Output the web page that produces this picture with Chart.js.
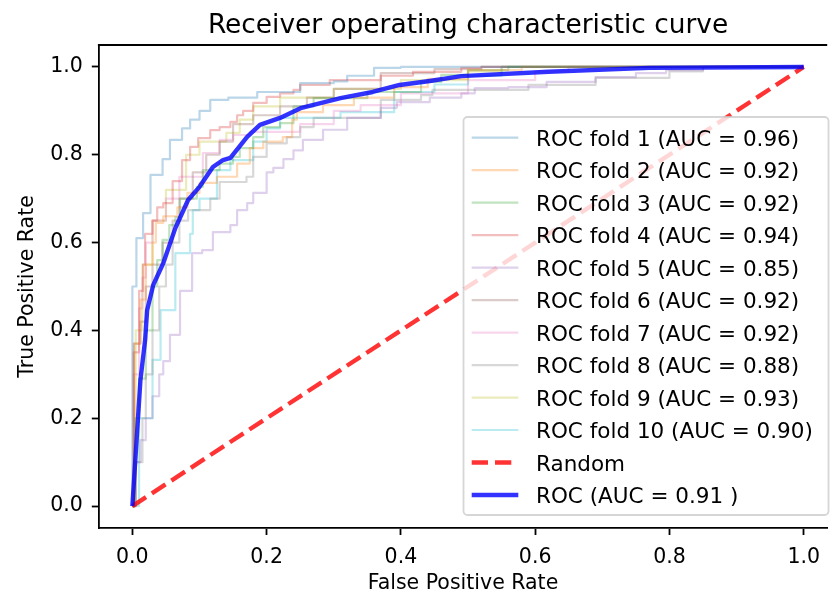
<!DOCTYPE html>
<html>
<head>
<meta charset="utf-8">
<title>Receiver operating characteristic curve</title>
<script src="https://cdn.jsdelivr.net/npm/chart.js@4.4.0/dist/chart.umd.min.js"></script>
<style>
  html, body { margin: 0; padding: 0; background: #fff; overflow: hidden; }
  canvas { display: block; }
</style>
</head>
<body>
<canvas id="rocChart" width="830" height="594"></canvas>
<script>
// ROC curve per fold, as [false positive rate, true positive rate] points
const fold1 = [[0,0],[0,0.50],[0.006,0.61],[0.016,0.667],[0.027,0.754],[0.045,0.79],[0.056,0.834],[0.074,0.86],[0.086,0.88],[0.10,0.90],[0.116,0.925],[0.143,0.93],[0.186,0.943],[0.25,0.963],[0.30,0.967],[0.32,0.98],[0.36,0.998],[0.40,1.0],[1,1]];
const fold2 = [[0,0],[0.003,0.37],[0.012,0.47],[0.02,0.55],[0.03,0.6],[0.035,0.645],[0.046,0.66],[0.067,0.68],[0.082,0.713],[0.10,0.736],[0.126,0.75],[0.156,0.78],[0.175,0.815],[0.195,0.83],[0.224,0.84],[0.238,0.88],[0.245,0.897],[0.284,0.913],[0.33,0.93],[0.39,0.954],[0.44,0.973],[0.50,0.993],[0.58,1.0],[1,1]];
const fold3 = [[0,0],[0.004,0.2],[0.01,0.29],[0.02,0.4],[0.03,0.5],[0.037,0.56],[0.045,0.606],[0.055,0.64],[0.064,0.658],[0.071,0.7],[0.096,0.727],[0.105,0.765],[0.13,0.78],[0.15,0.795],[0.16,0.815],[0.18,0.84],[0.195,0.863],[0.22,0.872],[0.24,0.91],[0.27,0.929],[0.35,0.943],[0.43,0.966],[0.46,0.982],[0.50,0.993],[0.56,1.0],[1,1]];
const fold4 = [[0,0],[0.002,0.35],[0.01,0.49],[0.016,0.55],[0.019,0.62],[0.03,0.65],[0.037,0.68],[0.046,0.69],[0.06,0.74],[0.074,0.788],[0.086,0.818],[0.098,0.838],[0.116,0.856],[0.13,0.863],[0.146,0.875],[0.156,0.89],[0.165,0.90],[0.18,0.918],[0.20,0.932],[0.22,0.94],[0.24,0.948],[0.25,0.959],[0.294,0.97],[0.37,0.98],[0.418,0.989],[0.49,0.998],[0.52,1.0],[1,1]];
const fold5 = [[0,0],[0.005,0.1],[0.012,0.15],[0.02,0.2],[0.03,0.25],[0.04,0.3],[0.046,0.33],[0.056,0.39],[0.071,0.49],[0.089,0.576],[0.104,0.583],[0.12,0.624],[0.146,0.64],[0.156,0.674],[0.171,0.69],[0.18,0.713],[0.2,0.76],[0.21,0.77],[0.225,0.79],[0.24,0.81],[0.254,0.834],[0.284,0.857],[0.32,0.884],[0.37,0.907],[0.394,0.92],[0.443,0.93],[0.49,0.94],[0.51,0.952],[0.56,0.954],[0.617,0.966],[0.69,0.977],[0.75,0.986],[0.795,0.993],[0.85,1.0],[1,1]];
const fold6 = [[0,0],[0.002,0.37],[0.012,0.42],[0.02,0.5],[0.03,0.55],[0.045,0.6],[0.06,0.65],[0.07,0.7],[0.09,0.76],[0.11,0.8],[0.13,0.83],[0.15,0.87],[0.18,0.89],[0.22,0.91],[0.26,0.93],[0.3,0.95],[0.37,0.986],[0.45,0.995],[0.52,1.0],[1,1]];
const fold7 = [[0,0],[0.002,0.3],[0.01,0.45],[0.015,0.52],[0.02,0.6],[0.03,0.65],[0.05,0.7],[0.07,0.75],[0.105,0.804],[0.13,0.834],[0.15,0.845],[0.175,0.852],[0.25,0.87],[0.3,0.9],[0.34,0.913],[0.4,0.94],[0.5,0.97],[0.6,0.99],[0.65,1.0],[1,1]];
const fold8 = [[0,0],[0.005,0.1],[0.015,0.2],[0.02,0.3],[0.03,0.4],[0.04,0.5],[0.05,0.55],[0.06,0.6],[0.07,0.65],[0.083,0.674],[0.116,0.70],[0.13,0.738],[0.17,0.75],[0.18,0.795],[0.2,0.826],[0.23,0.84],[0.25,0.863],[0.27,0.884],[0.37,0.925],[0.43,0.936],[0.447,0.948],[0.59,0.959],[0.69,0.975],[0.8,0.99],[0.85,1.0],[1,1]];
const fold9 = [[0,0],[0.005,0.4],[0.015,0.55],[0.03,0.65],[0.05,0.72],[0.08,0.8],[0.1,0.83],[0.14,0.85],[0.16,0.88],[0.18,0.91],[0.22,0.93],[0.3,0.95],[0.4,0.97],[0.5,0.99],[0.55,1.0],[1,1]];
const fold10 = [[0,0],[0.01,0.2],[0.03,0.333],[0.042,0.446],[0.064,0.576],[0.086,0.62],[0.09,0.674],[0.1,0.70],[0.126,0.765],[0.146,0.788],[0.18,0.83],[0.2,0.86],[0.22,0.884],[0.31,0.897],[0.39,0.943],[0.45,0.96],[0.5,0.98],[0.55,1.0],[1,1]];
const foldAuc = [0.96, 0.92, 0.92, 0.94, 0.85, 0.92, 0.92, 0.88, 0.93, 0.90];

// mean ROC and the chance diagonal
const meanRoc = [[0,0],[0.012,0.287],[0.019,0.378],[0.022,0.446],[0.031,0.503],[0.046,0.553],[0.064,0.633],[0.083,0.697],[0.1,0.727],[0.12,0.772],[0.135,0.788],[0.146,0.793],[0.171,0.841],[0.19,0.868],[0.22,0.884],[0.252,0.907],[0.31,0.929],[0.358,0.943],[0.398,0.959],[0.443,0.968],[0.49,0.979],[0.62,0.989],[0.77,0.998],[1,1]];
const meanAuc = 0.91;
const randomLine = [[0,0],[1,1]];

const xTicks = [0, 0.2, 0.4, 0.6, 0.8, 1.0];
const yTicks = [0, 0.2, 0.4, 0.6, 0.8, 1.0];

const folds = [fold1, fold2, fold3, fold4, fold5, fold6, fold7, fold8, fold9, fold10];
const foldColors = ['31,119,180', '255,127,14', '44,160,44', '214,39,40', '148,103,189',
                    '140,86,75', '227,119,194', '127,127,127', '188,189,34', '23,190,207'];

const toXY = pts => pts.map(p => ({x: p[0], y: p[1]}));
const FONT = '"DejaVu Sans", "Liberation Sans", sans-serif';

const datasets = folds.map((f, i) => ({
  label: 'ROC fold ' + (i + 1) + ' (AUC = ' + foldAuc[i].toFixed(2) + ')',
  data: toXY(f),
  borderColor: 'rgba(' + foldColors[i] + ',0.3)',
  borderWidth: 2.2,
  stepped: true,
  order: 3
}));
datasets.push({
  label: 'Random',
  data: toXY(randomLine),
  borderColor: 'rgba(255,0,0,0.8)',
  borderWidth: 4.4,
  borderDash: [16.3, 7],
  order: 2
});
datasets.push({
  label: 'ROC (AUC = ' + meanAuc.toFixed(2) + ' )',
  data: toXY(meanRoc),
  borderColor: 'rgba(0,0,255,0.8)',
  borderWidth: 4.4,
  order: 1
});

// title, top spine and the boxed legend, drawn the way matplotlib lays them out
const rocDecor = {
  id: 'rocDecor',
  afterDatasetsDraw(chart) {
    const {ctx, chartArea: a} = chart;
    ctx.save();
    ctx.strokeStyle = '#000';
    ctx.lineWidth = 1.8;
    ctx.beginPath();
    ctx.moveTo(a.left - 0.9, a.top);
    ctx.lineTo(a.right, a.top);
    ctx.stroke();
    ctx.restore();
  },
  afterDraw(chart) {
    const {ctx, scales: {x}} = chart;
    ctx.save();
    ctx.fillStyle = '#000';
    ctx.font = '26.4px ' + FONT;
    ctx.textAlign = 'center';
    ctx.textBaseline = 'alphabetic';
    ctx.fillText('Receiver operating characteristic curve', x.getPixelForValue(0.5), 33);

    // legend frame
    const bx = 463.5, by = 117, bw = 365, bh = 398, r = 4;
    ctx.beginPath();
    ctx.moveTo(bx + r, by);
    ctx.arcTo(bx + bw, by, bx + bw, by + bh, r);
    ctx.arcTo(bx + bw, by + bh, bx, by + bh, r);
    ctx.arcTo(bx, by + bh, bx, by, r);
    ctx.arcTo(bx, by, bx + bw, by, r);
    ctx.closePath();
    ctx.fillStyle = 'rgba(255,255,255,0.8)';
    ctx.fill();
    ctx.strokeStyle = 'rgba(204,204,204,0.8)';
    ctx.lineWidth = 1.8;
    ctx.stroke();

    ctx.font = '21.5px ' + FONT;
    ctx.textAlign = 'left';
    chart.data.datasets.forEach((ds, i) => {
      const cy = 137.7 + i * 32.48;
      ctx.save();
      ctx.strokeStyle = ds.borderColor;
      ctx.lineWidth = ds.borderWidth;
      ctx.setLineDash(ds.borderDash || []);
      ctx.beginPath();
      ctx.moveTo(471.7, cy);
      ctx.lineTo(518.3, cy);
      ctx.stroke();
      ctx.restore();
      ctx.fillStyle = '#000';
      ctx.fillText(ds.label, 536, cy + 8.3);
    });
    ctx.restore();
  }
};

Chart.defaults.color = '#000';
Chart.defaults.font.family = FONT;

new Chart(document.getElementById('rocChart'), {
  type: 'line',
  data: {datasets: datasets},
  plugins: [rocDecor],
  options: {
    responsive: false,
    devicePixelRatio: 1,
    animation: false,
    layout: {padding: {top: 45, left: 0, right: 0, bottom: 0}},
    elements: {
      point: {radius: 0, hoverRadius: 0},
      line: {tension: 0, fill: false, borderJoinStyle: 'round'}
    },
    plugins: {
      legend: {display: false},
      title: {display: false},
      tooltip: {enabled: false}
    },
    scales: {
      x: {
        type: 'linear',
        min: -0.05,
        max: 1.035,
        afterFit: s => { s.height = 66; },
        afterBuildTicks: s => { s.ticks = xTicks.map(v => ({value: v})); },
        ticks: {padding: 10, font: {size: 20.5}, callback: v => v.toFixed(1), maxRotation: 0},
        grid: {drawOnChartArea: false, drawTicks: true, tickLength: 7, tickColor: '#000', tickWidth: 1.8},
        border: {display: true, color: '#000', width: 1.8},
        title: {display: true, text: 'False Positive Rate', font: {size: 20.5, lineHeight: 1}, padding: 0}
      },
      y: {
        type: 'linear',
        min: -0.05,
        max: 1.05,
        afterFit: s => { s.width = 98.8; },
        afterBuildTicks: s => { s.ticks = yTicks.map(v => ({value: v})); },
        ticks: {padding: 9, font: {size: 20.5}, callback: v => v.toFixed(1)},
        grid: {drawOnChartArea: false, drawTicks: true, tickLength: 7, tickColor: '#000', tickWidth: 1.8},
        border: {display: true, color: '#000', width: 1.8},
        title: {display: true, text: 'True Positive Rate', font: {size: 20.5, lineHeight: 1}, padding: {top: 17.5, bottom: 0}}
      }
    }
  }
});
</script>
</body>
</html>
